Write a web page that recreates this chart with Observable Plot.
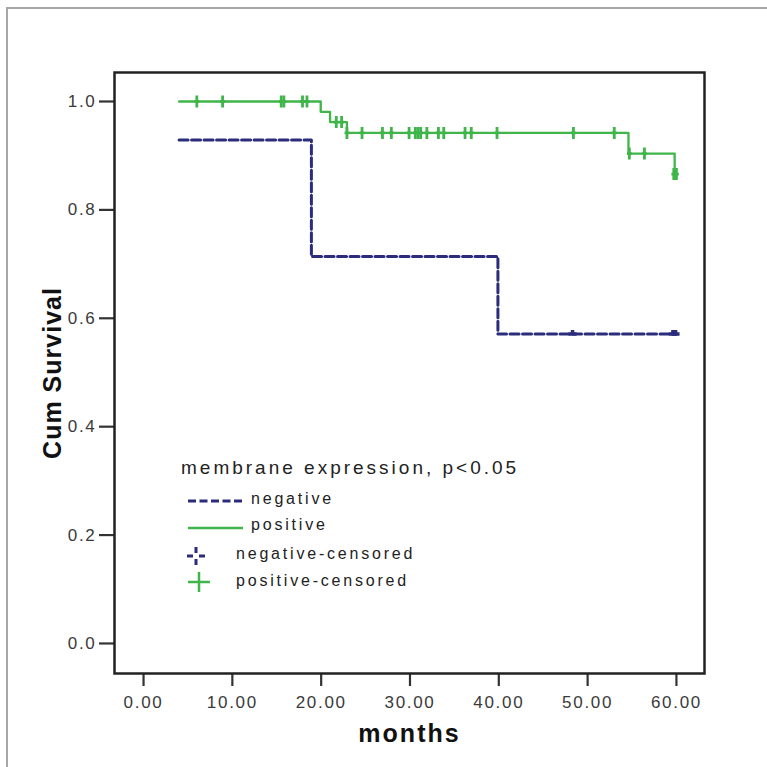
<!DOCTYPE html>
<html>
<head>
<meta charset="utf-8">
<script src="https://cdn.jsdelivr.net/npm/d3@7"></script>
<script src="https://cdn.jsdelivr.net/npm/@observablehq/plot@0.6"></script>
<style>
  html, body { margin: 0; padding: 0; background: #fff; }
  #wrap { position: relative; width: 767px; height: 767px; overflow: hidden; font-family: "Liberation Sans", Arial, sans-serif; }
  #border { position: absolute; left: 6px; top: 7px; width: 900px; height: 900px; border-left: 2px solid #a8a8a8; border-top: 2px solid #a8a8a8; }
  #chart { position: absolute; left: 0; top: 0; }
  #chart svg [aria-label="x-axis tick label"] text, #chart svg [aria-label="y-axis tick label"] text { letter-spacing: 1.7px; }
  .lg { position: absolute; color: #222; white-space: nowrap; }
  .lgt { font-size: 19px; letter-spacing: 3px; }
  .lgi { font-size: 16px; letter-spacing: 2.8px; }
  .sym { position: absolute; }
</style>
</head>
<body>
<div id="wrap">
  <div id="border"></div>
  <div id="chart"></div>
  <div id="legend"></div>
</div>
<script>
// ---- data ----
const negTimes = [4, 18.9, 39.9, 60];
const negSurv  = [0.929, 0.714, 0.571, 0.571];
const posTimes = [4, 19.95, 21.0, 22.9, 54.6, 59.8, 60.0];
const posSurv  = [1.0, 0.981, 0.962, 0.942, 0.904, 0.866, 0.866];
const negCensTimes = [48.3, 59.6, 59.9];
const negCensSurv  = [0.571, 0.571, 0.571];
const posCensTimes = [6.0, 8.9, 15.5, 15.8, 17.9, 18.4,
                      21.7, 22.3,
                      22.9, 24.6, 26.9, 27.9, 29.9, 30.6, 30.9, 31.2, 31.9, 33.2, 33.8, 36.2, 36.9, 39.8, 48.4, 53.0,
                      54.7, 56.4,
                      59.7, 59.85, 60.0];
const posCensSurv  = [1, 1, 1, 1, 1, 1,
                      0.962, 0.962,
                      0.942, 0.942, 0.942, 0.942, 0.942, 0.942, 0.942, 0.942, 0.942, 0.942, 0.942, 0.942, 0.942, 0.942, 0.942, 0.942,
                      0.904, 0.904,
                      0.866, 0.866, 0.866];
const xTicks = [0, 10, 20, 30, 40, 50, 60];
const yTicks = [0, 0.2, 0.4, 0.6, 0.8, 1.0];
const xLabel = "months";
const yLabel = "Cum Survival";
const legendTitle = "membrane expression, p<0.05";
const legendLabels = ["negative", "positive", "negative-censored", "positive-censored"];

const NAVY = "#2b2d7c";
const GREEN = "#3fb54a";

const neg = negTimes.map((t, i) => ({t, s: negSurv[i]}));
const pos = posTimes.map((t, i) => ({t, s: posSurv[i]}));
const negC = negCensTimes.map((t, i) => ({t, s: negCensSurv[i]}));
const posC = posCensTimes.map((t, i) => ({t, s: posCensSurv[i]}));

const crossSym = {
  draw(ctx, size) {
    const r = Math.sqrt(size / Math.PI);
    ctx.moveTo(0, -r); ctx.lineTo(0, r);
    ctx.moveTo(-r * 0.4, 0); ctx.lineTo(r * 0.4, 0);
  }
};
const smallSym = {
  draw(ctx, size) {
    const r = Math.sqrt(size / Math.PI);
    ctx.moveTo(0, -r); ctx.lineTo(0, 0);
    ctx.moveTo(-r, 0); ctx.lineTo(r, 0);
  }
};

const font = "'Liberation Sans', Arial, sans-serif";

const chart = Plot.plot({
  width: 767,
  height: 767,
  marginLeft: 114,
  marginRight: 63,
  marginTop: 72,
  marginBottom: 94,
  style: {fontFamily: font, background: "transparent", overflow: "visible"},
  x: {domain: [-3.27, 63.16], label: null},
  y: {domain: [-0.0554, 1.0535], label: null},
  marks: [
    Plot.axisX({ticks: xTicks, tickFormat: d => d.toFixed(2), tickSize: 13, tickPadding: 9, stroke: "#333", strokeWidth: 2.2, fontSize: 17, fill: "#3a3a3a", label: null}),
    Plot.axisY({ticks: yTicks, tickFormat: d => d.toFixed(1), tickSize: 15, tickPadding: 3, stroke: "#333", strokeWidth: 2.2, fontSize: 17, fill: "#3a3a3a", label: null}),
    Plot.frame({stroke: "#222", strokeWidth: 2.5}),
    Plot.line(neg, {x: "t", y: "s", curve: "step-after", stroke: NAVY, strokeWidth: 3, strokeDasharray: "9,3.5"}),
    Plot.line(pos, {x: "t", y: "s", curve: "step-after", stroke: GREEN, strokeWidth: 2.3}),
    Plot.dot(negC, {x: "t", y: "s", symbol: smallSym, r: 4, stroke: NAVY, strokeWidth: 3.5, fill: "none"}),
    Plot.dot(posC, {x: "t", y: "s", symbol: crossSym, r: 6, stroke: GREEN, strokeWidth: 2.8, fill: "none"}),
    Plot.text([xLabel], {frameAnchor: "bottom", dy: 60, text: d => d, textAnchor: "middle", fontSize: 25, fontWeight: "bold", fill: "#111", lineAnchor: "middle"}),
    Plot.text([yLabel], {frameAnchor: "left", dx: -62, rotate: -90, text: d => d, textAnchor: "middle", fontSize: 25, fontWeight: "bold", fill: "#111", lineAnchor: "middle"})
  ]
});
// letter spacing for axis titles
chart.querySelectorAll("text").forEach(t => {
  if (t.textContent === xLabel) t.style.letterSpacing = "2px";
  if (t.textContent === yLabel) t.style.letterSpacing = "1px";
});
document.getElementById("chart").appendChild(chart);

// ---- legend (HTML overlay inside the plot frame) ----
const lg = document.getElementById("legend");
function addText(txt, cls, left, cy) {
  const d = document.createElement("div");
  d.className = "lg " + cls;
  d.textContent = txt;
  d.style.left = left + "px";
  d.style.top = (cy - 12) + "px";
  d.style.lineHeight = "24px";
  lg.appendChild(d);
}
function addSvg(left, top, w, h, inner) {
  const d = document.createElement("div");
  d.className = "sym";
  d.style.left = left + "px";
  d.style.top = top + "px";
  d.innerHTML = `<svg width="${w}" height="${h}" xmlns="http://www.w3.org/2000/svg">${inner}</svg>`;
  lg.appendChild(d);
}
addText(legendTitle, "lgt", 181, 468);
addSvg(186, 493, 60, 12, `<line x1="2" y1="6" x2="58" y2="6" stroke="${NAVY}" stroke-width="3" stroke-dasharray="8,3.5"/>`);
addText(legendLabels[0], "lgi", 251, 499);
addSvg(186, 520, 60, 12, `<line x1="2" y1="6" x2="57" y2="6" stroke="${GREEN}" stroke-width="2.5"/>`);
addText(legendLabels[1], "lgi", 251, 525);
addSvg(185, 545, 22, 22, `<path d="M11 2V8M11 14V20M2 11H8M14 11H20" stroke="${NAVY}" stroke-width="3"/>`);
addText(legendLabels[2], "lgi", 236, 554);
addSvg(187, 570, 24, 24, `<path d="M12 2V22M1 12H23" stroke="${GREEN}" stroke-width="2.5"/>`);
addText(legendLabels[3], "lgi", 236, 581);
</script>
</body>
</html>
